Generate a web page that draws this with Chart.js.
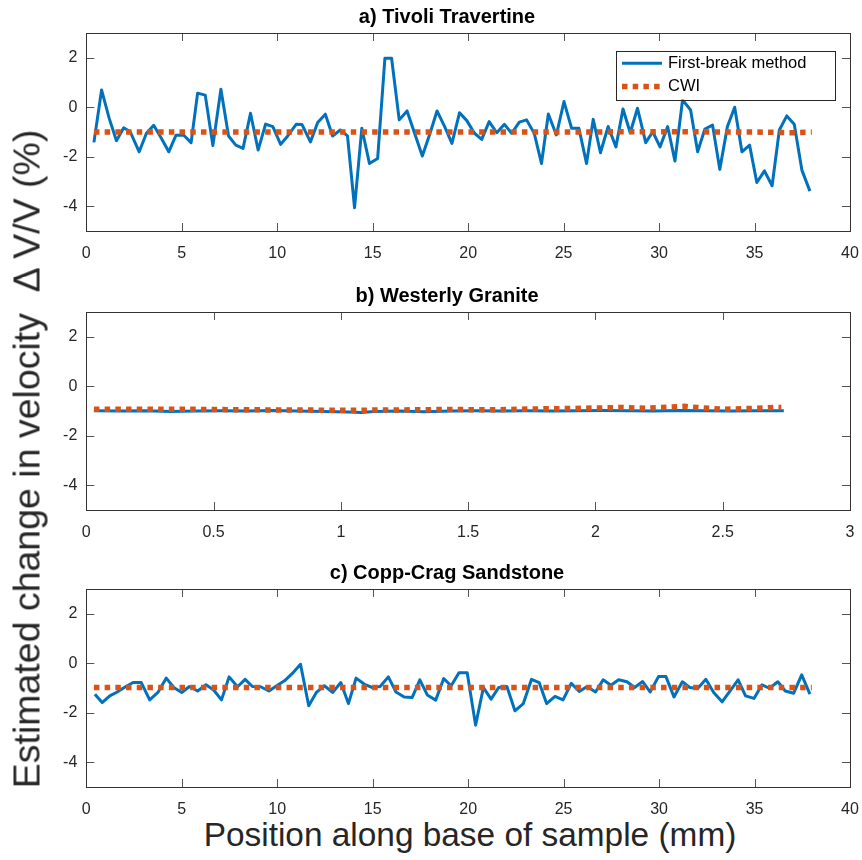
<!DOCTYPE html>
<html lang="en">
<head>
<meta charset="UTF-8">
<title>Estimated change in velocity</title>
<script src="https://cdn.jsdelivr.net/npm/chart.js"></script>
<style>
  body { margin: 0; background: #fff; font-family: "Liberation Sans", Arial, sans-serif; }
  #wrap { position: relative; width: 862px; height: 860px; }
  .panel { position: absolute; left: 32px; width: 830px; height: 260px; }
  #ylab { position: absolute; left: 27px; top: 459px; transform: translate(-50%, -50%) rotate(-90deg);
          white-space: pre; font-size: 37.5px; color: #262626; }
  #xlab { position: absolute; left: 470px; top: 835px; transform: translate(-50%, -50%);
          white-space: nowrap; font-size: 33.4px; color: #262626; }
</style>
</head>
<body>
<div id="wrap">
  <div class="panel" style="top:0px"><canvas id="pa"></canvas></div>
  <div class="panel" style="top:279px"><canvas id="pb"></canvas></div>
  <div class="panel" style="top:556px"><canvas id="pc"></canvas></div>
  <div id="ylab">Estimated change in velocity  Δ V/V (%)</div>
  <div id="xlab">Position along base of sample (mm)</div>
</div>
<script>
// a) Tivoli Travertine
const aPos = [0.4,0.8,1.2,1.58,1.96,2.3,2.77,3.15,3.53,3.93,4.32,4.7,5.09,5.49,5.83,6.23,6.63,7.05,7.45,7.83,
  8.21,8.6,9.0,9.39,9.77,10.18,10.56,10.99,11.3,11.74,12.12,12.52,12.9,13.3,13.68,14.05,14.43,14.83,15.26,15.64,
  15.99,16.39,16.8,17.2,17.6,18.0,18.37,18.77,19.15,19.55,19.93,20.33,20.71,21.1,21.5,21.9,22.28,22.68,23.06,23.46,
  23.84,24.2,24.62,25.02,25.42,25.8,26.2,26.55,26.93,27.33,27.74,28.11,28.49,28.87,29.3,29.67,30.05,30.45,30.83,31.23,
  31.65,32.02,32.4,32.8,33.18,33.58,33.96,34.34,34.74,35.12,35.52,35.92,36.3,36.69,37.08,37.48,37.9];
const aFirstBreak = [-1.42,0.70,-0.45,-1.35,-0.83,-0.99,-1.8,-1.05,-0.73,-1.25,-1.8,-1.13,-1.12,-1.43,0.57,0.49,-1.55,0.73,-1.16,-1.53,
  -1.66,-0.24,-1.73,-0.68,-0.78,-1.5,-1.15,-0.69,-0.7,-1.4,-0.62,-0.28,-1.16,-0.92,-1.16,-4.06,-0.85,-2.27,-2.07,1.98,
  1.98,-0.51,-0.15,-1.06,-1.97,-1.06,-0.15,-0.78,-1.46,-0.22,-0.54,-1.05,-1.3,-0.58,-1.03,-0.69,-1.05,-0.6,-0.51,-1.05,
  -2.27,-0.27,-1.12,0.23,-0.85,-0.85,-2.27,-0.49,-1.84,-0.78,-1.6,-0.07,-1.03,-0.04,-1.43,-0.99,-1.6,-0.78,-2.17,0.3,
  -0.11,-1.8,-0.88,-0.72,-2.51,-0.78,0.0,-1.8,-1.53,-3.04,-2.57,-3.17,-0.92,-0.35,-0.69,-2.54,-3.39];
const aCwiPos = [0.4,5,10,15,20,25,30,35,37,38];
const aCwi = [-1.0,-1.0,-1.0,-1.0,-1.0,-1.0,-0.99,-1.0,-1.03,-1.0];

// b) Westerly Granite
const bPos = [0.03,0.13,0.23,0.33,0.43,0.53,0.63,0.73,0.83,0.93,1.03,1.08,1.13,1.23,1.33,1.43,1.53,1.63,1.73,1.83,
  1.93,2.03,2.13,2.23,2.33,2.43,2.53,2.63,2.74];
const bFirstBreak = [-0.99,-1.0,-0.99,-1.02,-1.0,-0.99,-1.0,-0.98,-1.0,-1.02,-1.04,-1.06,-1.02,-1.0,-1.03,-1.0,-0.99,-1.0,-0.99,-1.0,
  -0.99,-0.98,-0.99,-1.0,-0.98,-0.99,-1.0,-0.99,-0.99];
const bCwiPos = [0.03,0.2,0.4,0.6,0.8,1.0,1.2,1.4,1.6,1.8,1.9,2.0,2.1,2.2,2.3,2.35,2.4,2.5,2.6,2.7,2.73];
const bCwi = [-0.93,-0.93,-0.93,-0.95,-0.96,-0.97,-0.96,-0.94,-0.95,-0.91,-0.9,-0.88,-0.86,-0.89,-0.84,-0.81,-0.86,-0.93,-0.9,-0.86,-0.86];

// c) Copp-Crag Sandstone
const cPos = [0.45,0.83,1.23,1.62,2.05,2.45,2.88,3.32,3.75,4.19,4.58,5.0,5.4,5.83,6.27,6.67,7.08,7.48,7.92,8.32,
  8.7,9.13,9.57,9.97,10.38,10.78,11.22,11.65,12.05,12.47,12.9,13.33,13.73,14.13,14.57,14.98,15.39,15.82,16.22,16.65,
  17.07,17.47,17.86,18.3,18.72,19.11,19.52,19.95,20.39,20.8,21.2,21.6,22.03,22.45,22.89,23.32,23.72,24.11,24.55,24.97,
  25.4,25.82,26.23,26.67,27.07,27.48,27.88,28.32,28.72,29.14,29.53,29.97,30.36,30.78,31.22,31.61,32.02,32.45,32.86,33.3,
  33.7,34.14,34.53,34.97,35.39,35.78,36.22,36.61,37.05,37.47,37.9];
const cFirstBreak = [-1.25,-1.59,-1.32,-1.16,-0.95,-0.78,-0.78,-1.48,-1.18,-0.6,-0.98,-1.18,-0.94,-1.12,-0.87,-1.08,-1.48,-0.55,-0.95,-0.65,
  -0.94,-0.95,-1.12,-0.91,-0.71,-0.42,-0.04,-1.72,-1.18,-0.91,-1.18,-0.78,-1.63,-0.6,-0.85,-0.98,-0.94,-0.55,-1.16,-1.36,
  -1.38,-0.67,-1.28,-1.49,-0.62,-0.91,-0.38,-0.38,-2.5,-0.98,-1.45,-0.98,-0.94,-1.92,-1.63,-0.65,-0.78,-1.63,-1.34,-1.48,
  -0.81,-1.14,-0.94,-1.16,-0.67,-0.89,-0.67,-0.75,-0.98,-0.74,-1.16,-0.54,-0.54,-1.36,-0.75,-0.98,-1.02,-0.65,-1.18,-1.56,
  -1.14,-0.67,-1.32,-1.42,-0.87,-1.01,-0.75,-1.12,-1.21,-0.47,-1.25];
const cCwiPos = [0.4,10,20,30,38];
const cCwi = [-0.98,-0.98,-0.98,-0.98,-0.98];

const xTicks40 = [0,5,10,15,20,25,30,35,40];
const xTicks3 = [0,0.5,1,1.5,2,2.5,3];
const yTicks = [-4,-2,0,2];

const FONT = '"Liberation Sans", Arial, sans-serif';
const BLUE = '#0072BD', ORANGE = '#D95319';

function pts(xs, ys) { return xs.map((x, i) => ({x: x, y: ys[i]})); }

// MATLAB-like box with inward ticks
const boxPlugin = {
  id: 'box',
  afterDatasetsDraw(chart) {
    const {ctx, chartArea: a, scales: {x, y}} = chart;
    ctx.save();
    ctx.strokeStyle = '#555';
    ctx.lineWidth = 1;
    ctx.beginPath();
    x.ticks.forEach(t => {
      const px = Math.round(x.getPixelForValue(t.value)) + 0.5;
      ctx.moveTo(px, a.bottom); ctx.lineTo(px, a.bottom - 8);
      ctx.moveTo(px, a.top); ctx.lineTo(px, a.top + 8);
    });
    y.ticks.forEach(t => {
      const py = Math.round(y.getPixelForValue(t.value)) + 0.5;
      ctx.moveTo(a.left, py); ctx.lineTo(a.left + 8, py);
      ctx.moveTo(a.right, py); ctx.lineTo(a.right - 8, py);
    });
    ctx.stroke();
    ctx.strokeStyle = '#333';
    ctx.strokeRect(Math.round(a.left) + 0.5, Math.round(a.top) + 0.5,
      Math.round(a.right - a.left), Math.round(a.bottom - a.top));
    ctx.restore();
  }
};

const legendPlugin = {
  id: 'boxLegend',
  afterDraw(chart) {
    if (!chart.options.plugins.boxLegend.show) return;
    const {ctx, chartArea: a} = chart;
    const left = a.right - 234, top = a.top + 17.5, w = 219, h = 49;
    ctx.save();
    ctx.fillStyle = '#fff';
    ctx.fillRect(left, top, w, h);
    ctx.strokeStyle = '#262626';
    ctx.lineWidth = 1;
    ctx.strokeRect(Math.round(left) + 0.5, Math.round(top) + 0.5, w, h);
    chart.data.datasets.slice().sort((p, q) => q.order - p.order).forEach((ds, i) => {
      const yy = top + 12.7 + i * 23.4;
      ctx.beginPath();
      ctx.strokeStyle = ds.borderColor;
      ctx.lineWidth = ds.borderWidth;
      ctx.setLineDash(ds.borderDash || []);
      ctx.lineCap = 'butt';
      ctx.moveTo(left + 6, yy); ctx.lineTo(left + 46, yy);
      ctx.stroke();
      ctx.setLineDash([]);
      ctx.fillStyle = '#000';
      ctx.font = '16.5px ' + FONT;
      ctx.textBaseline = 'middle';
      ctx.fillText(ds.label, left + 52, yy);
    });
    ctx.restore();
  }
};

function makePanel(id, title, fx, fy, cx, cy, xMax, xTicks, showLegend) {
  new Chart(document.getElementById(id), {
    type: 'line',
    data: {
      datasets: [
        { label: 'First-break method', data: pts(fx, fy), borderColor: BLUE, borderWidth: 3,
          pointRadius: 0, tension: 0, fill: false, order: 1, borderJoinStyle: 'round' },
        { label: 'CWI', data: pts(cx, cy), borderColor: ORANGE, borderWidth: 5.5, borderDash: [5.5, 5.2],
          borderCapStyle: 'butt', pointRadius: 0, tension: 0, fill: false, order: 0 }
      ]
    },
    options: {
      responsive: true,
      maintainAspectRatio: false,
      animation: false,
      layout: { padding: 0 },
      plugins: {
        legend: { display: false },
        tooltip: { enabled: false },
        title: { display: true, text: title, color: '#000',
                 font: { family: FONT, size: 20, weight: 'bold' }, padding: { top: 5, bottom: 4 } },
        boxLegend: { show: showLegend }
      },
      scales: {
        x: {
          type: 'linear', min: 0, max: xMax,
          grid: { display: false, drawTicks: false }, border: { display: false },
          ticks: { color: '#262626', padding: 13, maxRotation: 0, font: { family: FONT, size: 16 },
                   callback: v => String(v) },
          afterBuildTicks: s => { s.ticks = xTicks.map(v => ({ value: v })); },
          afterFit: s => { s.height = 29; s.paddingLeft = 0; s.paddingRight = 12; }
        },
        y: {
          min: -5, max: 3,
          grid: { display: false, drawTicks: false }, border: { display: false },
          ticks: { color: '#262626', padding: 9, font: { family: FONT, size: 16 } },
          afterBuildTicks: s => { s.ticks = yTicks.map(v => ({ value: v })); },
          afterFit: s => { s.width = 54.3; }
        }
      }
    },
    plugins: [boxPlugin, legendPlugin]
  });
}

makePanel('pa', 'a) Tivoli Travertine', aPos, aFirstBreak, aCwiPos, aCwi, 40, xTicks40, true);
makePanel('pb', 'b) Westerly Granite', bPos, bFirstBreak, bCwiPos, bCwi, 3, xTicks3, false);
makePanel('pc', 'c) Copp-Crag Sandstone', cPos, cFirstBreak, cCwiPos, cCwi, 40, xTicks40, false);
</script>
</body>
</html>
